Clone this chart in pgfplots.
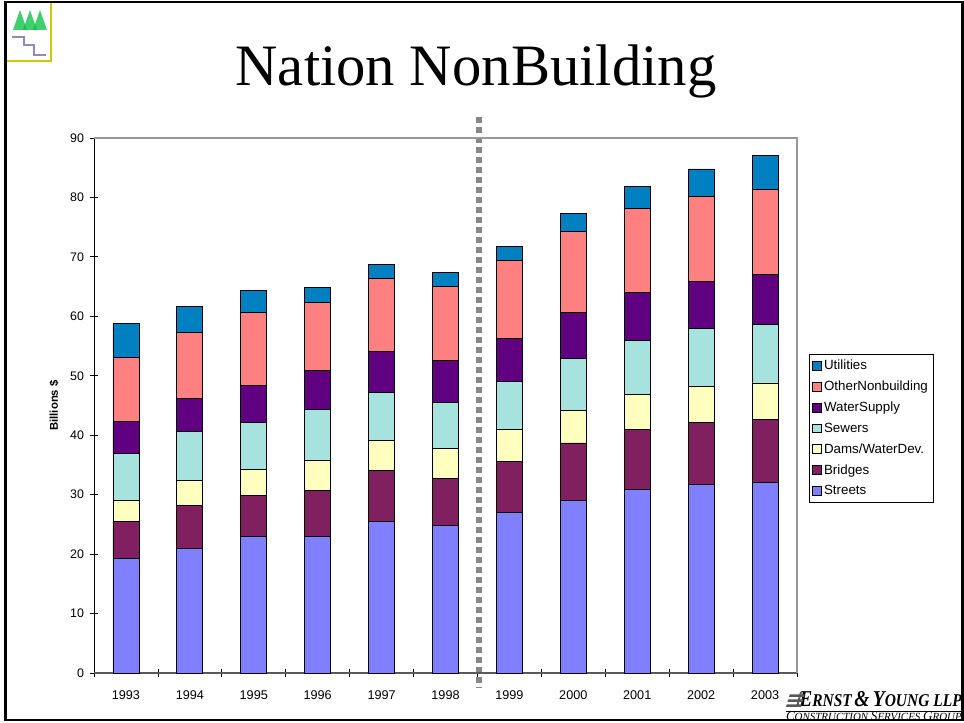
\documentclass[border=0pt]{standalone}
\usepackage{pgfplots}
\usepackage{pgfplotstable}
\usepackage{fontspec}
\setmainfont{Liberation Sans}
\newfontfamily\serif{Liberation Serif}
\pgfplotsset{compat=1.18}
\definecolor{cStreets}{HTML}{8080FF}
\definecolor{cBridges}{HTML}{802060}
\definecolor{cDams}{HTML}{FFFFC0}
\definecolor{cSewers}{HTML}{A6E2DE}
\definecolor{cWater}{HTML}{600080}
\definecolor{cOther}{HTML}{FF8080}
\definecolor{cUtil}{HTML}{0080C0}
\pgfplotstableread{
x Streets Bridges Dams Sewers Water Other Util
0 19.3 6.2 3.6 7.9 5.3 10.8 5.7
1 21.0 7.2 4.2 8.3 5.5 11.1 4.3
2 23.0 6.9 4.3 8.0 6.2 12.2 3.8
3 22.9 7.8 5.1 8.6 6.5 11.5 2.5
4 25.5 8.5 5.1 8.1 6.9 12.2 2.4
5 24.8 7.9 5.0 7.8 7.1 12.5 2.3
6 27.0 8.6 5.3 8.1 7.3 13.1 2.4
7 29.0 9.7 5.5 8.7 7.7 13.7 3.0
8 30.9 10.1 5.8 9.2 8.0 14.1 3.8
9 31.7 10.5 6.0 9.7 8.0 14.2 4.7
10 32.1 10.6 6.1 9.9 8.3 14.3 5.8
}\datatable
\begin{document}
\begin{tikzpicture}[x=0.75pt,y=0.75pt]
\path[use as bounding box] (0,0) rectangle (964,723);
% slide frame
\fill[white] (0,0) rectangle (964,723);
% corner icon
\fill[white] (7,662) rectangle (51,720);
\draw[yellow!60!olive,line width=1pt] (7,662) -- (51,662) -- (51,720);
\fill[green!50!teal,opacity=.75] (13,693)--(20,713)--(27,693)--cycle;
\fill[green!50!teal,opacity=.75] (23,693)--(30,713)--(37,693)--cycle;
\fill[green!50!teal,opacity=.75] (33,693)--(40,713)--(47,693)--cycle;
\draw[blue!40!black,opacity=.45,line width=1.6pt] (12,686)--(24,686)--(24,678)--(34,678)--(34,668)--(46,668);
% title
\node[font=\serif\fontsize{44}{48}\selectfont] at (476,652) {Nation NonBuilding};
\begin{axis}[
  at={(70.5pt,37.5pt)},anchor=south west,
  scale only axis,width=527.25pt,height=401.25pt,
  xmin=-0.5,xmax=10.5,ymin=0,ymax=90,
  ybar stacked,bar width=19.5pt,
  clip=false,
  axis line style={draw=none},
  xtick={0,...,10},
  xticklabels={1993,1994,1995,1996,1997,1998,1999,2000,2001,2002,2003},
  minor xtick={-0.5,0.5,...,10.5},
  ytick={0,10,...,90},
  tick align=center,
  major x tick style={draw=none},
  tick style={black,line width=0.6pt},
  major tick length=6pt,minor tick length=6pt,
  xtick pos=bottom,ytick pos=left,
  /pgf/number format/assume math mode=true,
  x tick label style={/pgf/number format/1000 sep={},font=\fontsize{9.5}{10}\selectfont,yshift=-7pt},
  y tick label style={font=\fontsize{9.3}{10}\selectfont,xshift=-1pt},
  ylabel={\textbf{Billions \$}},
  ylabel style={font=\fontsize{8.5}{10}\selectfont,at={(axis description cs:-0.0,0.5)},yshift=23pt},
  legend style={at={(1.0171,0.596)},anchor=north west,draw=black,line width=0.6pt,
    font=\fontsize{10}{11.5}\selectfont,inner xsep=2pt,inner ysep=2pt,row sep=3pt,
    cells={anchor=west},legend cell align=left},
  reverse legend,
  legend image code/.code={\draw[#1,line width=0.5pt] (0pt,-3.2pt) rectangle (6.5pt,3.4pt);},
]
\draw[gray!80,line width=1pt] (axis cs:-0.5,90) -- (axis cs:10.5,90) -- (axis cs:10.5,0);
\addplot[fill=cStreets,draw=black,line width=0.6pt] table[x=x,y=Streets]{\datatable};
\addplot[fill=cBridges,draw=black,line width=0.6pt] table[x=x,y=Bridges]{\datatable};
\addplot[fill=cDams,draw=black,line width=0.6pt] table[x=x,y=Dams]{\datatable};
\addplot[fill=cSewers,draw=black,line width=0.6pt] table[x=x,y=Sewers]{\datatable};
\addplot[fill=cWater,draw=black,line width=0.6pt] table[x=x,y=Water]{\datatable};
\addplot[fill=cOther,draw=black,line width=0.6pt] table[x=x,y=Other]{\datatable};
\addplot[fill=cUtil,draw=black,line width=0.6pt] table[x=x,y=Util]{\datatable};
\legend{Streets,Bridges,Dams/WaterDev.,Sewers,WaterSupply,OtherNonbuilding,Utilities}
\draw[black!65,line width=0.8pt] (axis cs:-0.5,0) -- (axis cs:10.5,0);
\draw[black,line width=0.7pt] (axis cs:-0.5,90) -- (axis cs:-0.5,0);
\draw[black!47,line width=4.5pt,dash pattern=on 4.5pt off 3pt] (axis cs:5.52,93.6) -- (axis cs:5.52,-2.4);
\end{axis}
% logo
\node[anchor=base east,inner sep=0pt,font=\serif\bfseries\itshape\fontsize{17}{18}\selectfont] at (962,16) {\scalebox{0.86}[1]{E\fontsize{13.5}{14}\selectfont RNST\,\fontsize{17}{18}\selectfont \&\,Y\fontsize{13.5}{14}\selectfont OUNG LLP}};
\draw[line width=0.6pt] (786,12)--(961,12);
\node[anchor=base east,inner sep=0pt,font=\serif\itshape\fontsize{9.8}{10}\selectfont] at (962,2.5) {C\fontsize{8.2}{9}\selectfont ONSTRUCTION \fontsize{9.8}{10}\selectfont S\fontsize{8.2}{9}\selectfont ERVICES \fontsize{9.8}{10}\selectfont G\fontsize{8.2}{9}\selectfont ROUP};
\fill[gray!70!black] (786,16)--(801,16)--(801.7,18.5)--(786.7,18.5)--cycle
 (787.5,21)--(802.5,21)--(803,23.5)--(788,23.5)--cycle
 (789,26)--(804,26)--(804.7,28.5)--(789.7,28.5)--cycle
 (796,16)--(798,16)--(802,31)--(800,31)--cycle;
% slide border
\draw[black,line width=2.2pt] (5.5,3) rectangle (962.5,721);
\end{tikzpicture}
\end{document}
